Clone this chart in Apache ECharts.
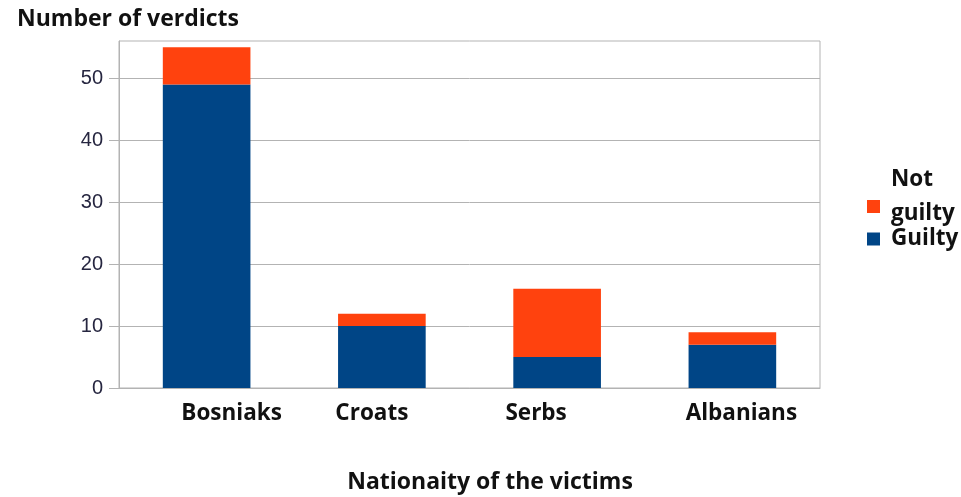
<!DOCTYPE html>
<html>
<head>
<meta charset="utf-8">
<script src="https://cdn.jsdelivr.net/npm/echarts@6/dist/echarts.min.js"></script>
<style>
html,body{margin:0;padding:0;background:#fff;}
#chart{width:961px;height:497px;}
</style>
</head>
<body>
<div id="chart"></div>
<script>
const categories = ['Bosniaks', 'Croats', 'Serbs', 'Albanians'];
const guilty = [49, 10, 5, 7];
const notGuilty = [6, 2, 11, 2];
const yTicks = [0, 10, 20, 30, 40, 50];
const yMax = 56;

const labelShift = [50, -20, -42, 18];
const rich = {};
categories.forEach((c, i) => {
  const s = labelShift[i];
  rich['c' + i] = {
    fontFamily: 'Open Sans', fontWeight: 'bold', fontSize: 22.5, color: '#111',
    padding: s >= 0 ? [0, 0, 0, s] : [0, -s, 0, 0]
  };
});

const chart = echarts.init(document.getElementById('chart'), null, {renderer: 'canvas'});
const boldFont = {fontFamily: 'Open Sans', fontWeight: 'bold', color: '#111'};
chart.setOption({
  animation: false,
  backgroundColor: '#fff',
  title: {
    text: 'Number of verdicts', left: 12, top: 3,
    textStyle: Object.assign({fontSize: 23}, boldFont)
  },
  grid: {left: 119, right: 141, top: 41, bottom: 109, show: true, borderColor: '#b3b3b3', borderWidth: 1, outerBoundsMode: 'none', containLabel: false},
  legend: [{
    data: ['Not guilty'],
    left: 867, top: 168, padding: 0, orient: 'vertical',
    itemWidth: 13, itemHeight: 13, icon: 'rect',
    formatter: () => '{n|Not}\n{n|guilty}\n{e|x}',
    textStyle: Object.assign({
      fontSize: 22.5, padding: [0, 0, 0, 6],
      rich: {
        n: Object.assign({fontSize: 22.5, lineHeight: 34}, boldFont),
        e: {fontSize: 8, lineHeight: 20, height: 20, color: 'rgba(0,0,0,0)'}
      }
    }, boldFont)
  }, {
    data: ['Guilty'],
    left: 867, top: 227, padding: 0, orient: 'vertical',
    itemWidth: 13, itemHeight: 13, icon: 'rect',
    textStyle: Object.assign({fontSize: 22.5, lineHeight: 24, padding: [0, 0, 0, 6]}, boldFont)
  }],
  xAxis: {
    type: 'category', data: categories,
    name: 'Nationaity of the victims', nameLocation: 'middle', nameGap: 83,
    nameTextStyle: Object.assign({fontSize: 23, padding: [0, 0, 0, 41]}, boldFont),
    axisLine: {lineStyle: {color: '#b3b3b3', width: 1}},
    axisTick: {length: 10, lineStyle: {color: '#b3b3b3'}},
    axisLabel: {
      margin: 14,
      formatter: (v) => '{c' + categories.indexOf(v) + '|' + v + '}',
      rich: rich
    }
  },
  yAxis: {
    type: 'value', min: 0, max: yMax, interval: 10,
    axisLine: {show: true, lineStyle: {color: '#b3b3b3', width: 1}},
    axisTick: {show: true, length: 10, lineStyle: {color: '#b3b3b3'}, customValues: yTicks},
    axisLabel: {
      customValues: yTicks, margin: 16,
      fontFamily: 'Liberation Sans', fontSize: 20, color: '#262640'
    },
    splitLine: {lineStyle: {color: '#b3b3b3', width: 1}}
  },
  series: [{
    name: 'Guilty', type: 'bar', stack: 'v', data: guilty, barWidth: '50%',
    itemStyle: {color: '#004586'}
  }, {
    name: 'Not guilty', type: 'bar', stack: 'v', data: notGuilty, barWidth: '50%',
    itemStyle: {color: '#ff420e'}
  }]
});
</script>
</body>
</html>
